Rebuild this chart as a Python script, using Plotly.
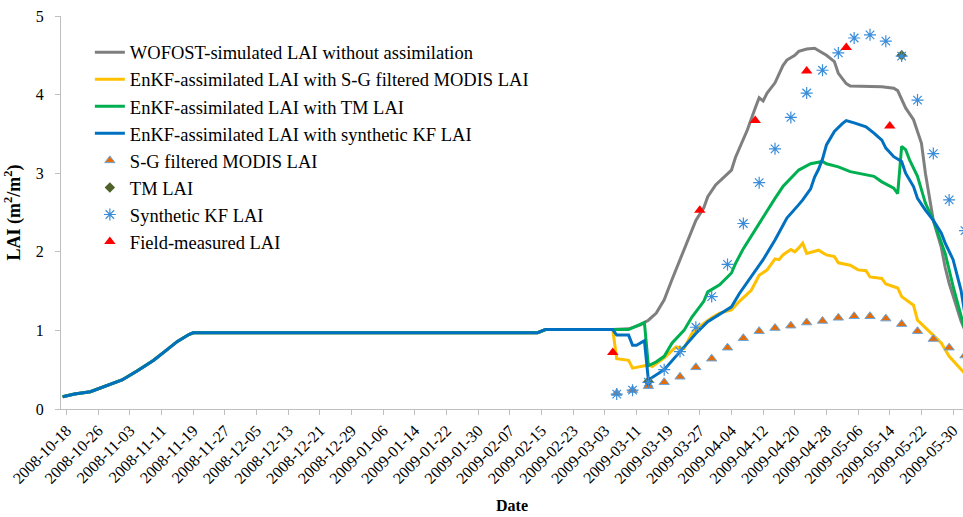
import plotly.graph_objects as go

# ---- shared early-season part (all simulations identical) ----
base_dates = ["2008-10-17", "2008-10-20", "2008-10-24", "2008-10-28", "2008-11-01", "2008-11-05",
              "2008-11-09", "2008-11-12", "2008-11-15", "2008-11-18", "2008-11-19", "2009-02-14",
              "2009-02-16", "2009-03-05"]
base_lai = [0.155, 0.19, 0.22, 0.29, 0.37, 0.49, 0.62, 0.74, 0.86, 0.95, 0.97, 0.97, 1.01, 1.01]

# ---- WOFOST without assimilation ----
wofost_dates = ["2009-03-09", "2009-03-12", "2009-03-14", "2009-03-16", "2009-03-18", "2009-03-20",
                "2009-03-22", "2009-03-24", "2009-03-26", "2009-03-28", "2009-03-29", "2009-03-31",
                "2009-04-02", "2009-04-04", "2009-04-05", "2009-04-08", "2009-04-10", "2009-04-11",
                "2009-04-12", "2009-04-13", "2009-04-15", "2009-04-16", "2009-04-17", "2009-04-18",
                "2009-04-20", "2009-04-21", "2009-04-23", "2009-04-25", "2009-04-26", "2009-04-28",
                "2009-04-30", "2009-05-01", "2009-05-03", "2009-05-04", "2009-05-12", "2009-05-15",
                "2009-05-16", "2009-05-18", "2009-05-20", "2009-05-22", "2009-05-23", "2009-05-24",
                "2009-05-25", "2009-05-27", "2009-05-28", "2009-05-29", "2009-05-30", "2009-06-01",
                "2009-06-02"]
wofost_lai = [1.02, 1.07, 1.13, 1.22, 1.39, 1.65, 1.90, 2.15, 2.40, 2.56, 2.70, 2.85, 2.95, 3.04, 3.20,
              3.55, 3.83, 3.96, 3.92, 4.02, 4.15, 4.26, 4.37, 4.44, 4.50, 4.55, 4.58, 4.59, 4.56, 4.50,
              4.42, 4.27, 4.14, 4.11, 4.10, 4.08, 4.05, 3.83, 3.68, 3.38, 3.00, 2.70, 2.40, 2.06, 1.80,
              1.60, 1.43, 1.12, 1.00]

# ---- EnKF with S-G filtered MODIS LAI ----
sg_run_dates = ["2009-03-06", "2009-03-09", "2009-03-10", "2009-03-13", "2009-03-14", "2009-03-15",
                "2009-03-18", "2009-03-21", "2009-03-23", "2009-03-25", "2009-03-28", "2009-03-30",
                "2009-04-01", "2009-04-04", "2009-04-06", "2009-04-09", "2009-04-11", "2009-04-13",
                "2009-04-15", "2009-04-16", "2009-04-17", "2009-04-19", "2009-04-20", "2009-04-21",
                "2009-04-22", "2009-04-23", "2009-04-26", "2009-04-28", "2009-04-30", "2009-05-01",
                "2009-05-04", "2009-05-06", "2009-05-08", "2009-05-09", "2009-05-12", "2009-05-13",
                "2009-05-16", "2009-05-17", "2009-05-20", "2009-05-21", "2009-05-24", "2009-05-27",
                "2009-05-29", "2009-06-01", "2009-06-02"]
sg_run_lai = [0.64, 0.62, 0.52, 0.55, 0.56, 0.54, 0.65, 0.79, 0.77, 0.96, 1.09, 1.16, 1.22, 1.26, 1.37,
              1.51, 1.70, 1.77, 1.91, 1.90, 1.96, 2.03, 2.00, 2.05, 2.11, 1.98, 2.02, 1.96, 1.94, 1.86,
              1.83, 1.77, 1.76, 1.68, 1.66, 1.59, 1.54, 1.43, 1.32, 1.13, 0.98, 0.84, 0.67, 0.50, 0.45]

# ---- EnKF with TM LAI ----
tm_run_dates = ["2009-03-09", "2009-03-13", "2009-03-14", "2009-03-16", "2009-03-18", "2009-03-20",
                "2009-03-23", "2009-03-25", "2009-03-28", "2009-03-29", "2009-04-01", "2009-04-04",
                "2009-04-05", "2009-04-07", "2009-04-10", "2009-04-12", "2009-04-15", "2009-04-17",
                "2009-04-20", "2009-04-21", "2009-04-24", "2009-04-27", "2009-04-28", "2009-05-01",
                "2009-05-04", "2009-05-07", "2009-05-10", "2009-05-12", "2009-05-15", "2009-05-16",
                "2009-05-17", "2009-05-18", "2009-05-19", "2009-05-21", "2009-05-22", "2009-05-23",
                "2009-05-25", "2009-05-27", "2009-05-28", "2009-05-30", "2009-06-01", "2009-06-02"]
tm_run_lai = [1.01, 1.10, 0.55, 0.60, 0.67, 0.84, 1.00, 1.17, 1.37, 1.49, 1.58, 1.73, 1.85, 2.04, 2.28,
              2.45, 2.68, 2.83, 2.98, 3.04, 3.12, 3.15, 3.12, 3.08, 3.02, 2.99, 2.96, 2.89, 2.81, 2.74,
              3.34, 3.30, 3.17, 2.96, 2.78, 2.62, 2.40, 2.12, 1.98, 1.56, 1.17, 1.00]

# ---- EnKF with synthetic KF LAI ----
kf_run_dates = ["2009-03-06", "2009-03-09", "2009-03-10", "2009-03-11", "2009-03-13", "2009-03-14",
                "2009-03-18", "2009-03-22", "2009-03-26", "2009-03-29", "2009-04-01", "2009-04-04",
                "2009-04-06", "2009-04-09", "2009-04-12", "2009-04-15", "2009-04-18", "2009-04-21",
                "2009-04-22", "2009-04-24", "2009-04-25", "2009-04-26", "2009-04-27", "2009-04-28",
                "2009-04-30", "2009-05-02", "2009-05-03", "2009-05-05", "2009-05-08", "2009-05-10",
                "2009-05-12", "2009-05-13", "2009-05-15", "2009-05-17", "2009-05-18", "2009-05-20",
                "2009-05-21", "2009-05-23", "2009-05-25", "2009-05-27", "2009-05-28", "2009-05-30",
                "2009-06-01", "2009-06-02"]
kf_run_lai = [0.94, 0.94, 0.81, 0.81, 0.87, 0.37, 0.50, 0.73, 0.96, 1.11, 1.20, 1.30, 1.47, 1.68, 1.90,
              2.15, 2.43, 2.60, 2.66, 2.80, 2.95, 3.05, 3.18, 3.36, 3.53, 3.63, 3.67, 3.64, 3.59, 3.51,
              3.42, 3.32, 3.21, 3.15, 3.00, 2.83, 2.68, 2.53, 2.40, 2.24, 2.11, 1.90, 1.51, 1.20]

# ---- observations ----
obs_dates = ["2009-03-06", "2009-03-10", "2009-03-14", "2009-03-18", "2009-03-22", "2009-03-26",
             "2009-03-30", "2009-04-03", "2009-04-07", "2009-04-11", "2009-04-15", "2009-04-19",
             "2009-04-23", "2009-04-27", "2009-05-01", "2009-05-05", "2009-05-09", "2009-05-13",
             "2009-05-17", "2009-05-21", "2009-05-25", "2009-05-29", "2009-06-02"]
modis_lai = [0.20, 0.24, 0.29, 0.34, 0.41, 0.53, 0.64, 0.78, 0.90, 0.99, 1.03, 1.06, 1.10, 1.12, 1.16,
             1.18, 1.18, 1.15, 1.08, 0.99, 0.89, 0.78, 0.68]
kf_obs_lai = [0.19, 0.24, 0.34, 0.50, 0.73, 1.04, 1.43, 1.84, 2.36, 2.88, 3.31, 3.71, 4.02, 4.31, 4.53,
              4.72, 4.76, 4.68, 4.49, 3.93, 3.25, 2.66, 2.27]
tm_dates = ["2009-03-14", "2009-05-17"]
tm_lai = [0.35, 4.50]
field_dates = ["2009-03-05", "2009-03-27", "2009-04-10", "2009-04-23", "2009-05-03", "2009-05-14"]
field_lai = [0.72, 2.53, 3.67, 4.30, 4.60, 3.60]

tick_start = "2008-10-18"
FONT = "Liberation Serif"

fig = go.Figure()
line_series = [
    ("WOFOST-simulated LAI without assimilation", wofost_dates, wofost_lai, "#7F7F7F"),
    ("EnKF-assimilated LAI with S-G filtered MODIS LAI", sg_run_dates, sg_run_lai, "#FFC000"),
    ("EnKF-assimilated LAI with TM LAI", tm_run_dates, tm_run_lai, "#00B050"),
    ("EnKF-assimilated LAI with synthetic KF LAI", kf_run_dates, kf_run_lai, "#0070C0"),
]
for name, d, v, c in line_series:
    fig.add_trace(go.Scatter(x=base_dates + d, y=base_lai + v, mode="lines", name=name,
                             line=dict(color=c, width=3)))

fig.add_trace(go.Scatter(x=obs_dates, y=modis_lai, mode="markers", name="S-G filtered MODIS LAI",
                         marker=dict(symbol="triangle-up", size=9, color="#E46C0A",
                                     line=dict(color="#6AA8E0", width=1))))
fig.add_trace(go.Scatter(x=tm_dates, y=tm_lai, mode="markers", name="TM LAI",
                         marker=dict(symbol="diamond", size=8, color="#4F6228")))
fig.add_trace(go.Scatter(x=obs_dates, y=kf_obs_lai, mode="markers", name="Synthetic KF LAI",
                         marker=dict(symbol="asterisk-open", size=10, color="#3A8DDA",
                                     line=dict(color="#3A8DDA", width=1.2))))
fig.add_trace(go.Scatter(x=field_dates, y=field_lai, mode="markers", name="Field-measured LAI",
                         marker=dict(symbol="triangle-up", size=10, color="#FF0000")))

fig.update_layout(
    width=963, height=517,
    margin=dict(l=61, r=0, t=16, b=108),
    paper_bgcolor="white", plot_bgcolor="white",
    font=dict(family=FONT, size=16, color="black"),
    showlegend=True,
    legend=dict(x=0.032, y=0.955, xanchor="left", yanchor="top", bgcolor="rgba(0,0,0,0)",
                font=dict(family=FONT, size=18.5, color="black"), tracegroupgap=0, itemwidth=30),
    xaxis=dict(type="date", range=["2008-10-16 14:00", "2009-06-01 12:00"],
               tick0=tick_start, dtick=8 * 86400000, tickformat="%Y-%m-%d", tickangle=-45,
               ticks="outside", ticklen=5, tickcolor="#BFBFBF", showline=True, linecolor="#BFBFBF",
               showgrid=False, zeroline=False, tickfont=dict(family=FONT, size=16, color="black"),
               title=dict(text="<b>Date</b>", font=dict(family=FONT, size=16, color="black"),
                          standoff=14)),
    yaxis=dict(range=[0, 5], dtick=1, ticks="outside", ticklen=5, tickcolor="#BFBFBF",
               showline=True, linecolor="#BFBFBF", showgrid=False, zeroline=False,
               ticklabelstandoff=8,
               tickfont=dict(family=FONT, size=16, color="black"),
               title=dict(text="<b>LAI (m<sup>2</sup>/m<sup>2</sup>)</b>",
                          font=dict(family=FONT, size=18, color="black"), standoff=10)),
)

fig.write_html("out.html")
